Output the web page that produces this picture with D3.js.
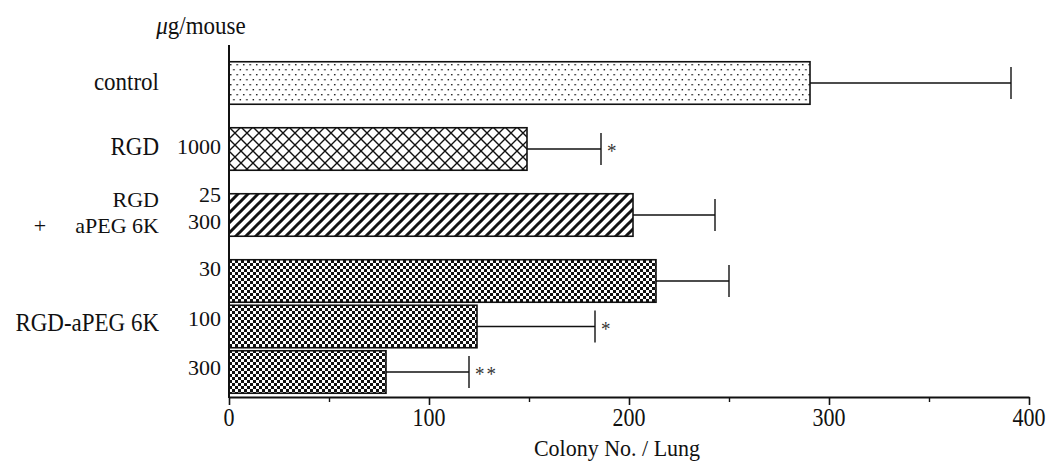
<!DOCTYPE html>
<html>
<head>
<meta charset="utf-8">
<script src="https://cdn.jsdelivr.net/npm/d3@7"></script>
<style>
  html, body { margin: 0; padding: 0; background: #fff; }
  svg { display: block; }
  text { font-family: "Liberation Serif", "Times New Roman", serif; fill: #111; }
</style>
</head>
<body>
<svg id="chart" width="1049" height="461"></svg>
<script>
// ---- data ----
const barIds    = ["control", "RGD1000", "mix", "conj30", "conj100", "conj300"];
const groups    = [0, 1, 2, 3, 3, 3];
const means     = [290.5, 149, 202, 213.5, 124, 78.5];
const errors    = [100.5, 37, 41, 36.5, 59, 41.5];
const stars     = ["", "*", "", "", "*", "**"];
const patterns  = ["dots", "cross", "diag", "checker", "checker", "checker"];
const doseLabels = [[], ["1000"], ["25", "300"], ["30"], ["100"], ["300"]];
const groupLabels = [["control"], ["RGD"], ["RGD", "aPEG 6K"], ["RGD-aPEG 6K"]];
const xTicks    = [0, 100, 200, 300, 400];
const xMinor    = [50, 150, 250, 350];
const xTitle    = "Colony No. / Lung";
const unitLabel = "g/mouse";

// ---- layout ----
const svg = d3.select("#chart");
const x = d3.scaleLinear().domain([0, 400]).range([229, 1029]);
const gapRatio = 20.5 / 45.5;
const slot = (i) => i + groups[i] * gapRatio;
const y = d3.scaleLinear().domain([0, 1]).range([83, 83 + 45.5]);
const barH = 42.5;
const VS = 1.1;           // vertical stretch of the scanned type
const FS = 23;

function label(xp, yp, str, anchor, size, vs) {
  const g = svg.append("g").attr("transform", `translate(${xp},${yp}) scale(1,${vs || VS})`);
  const t = g.append("text").attr("text-anchor", anchor || "end")
    .attr("dy", "0.35em").style("font-size", (size || FS) + "px").text(str);
  return t;
}

// patterns
const defs = svg.append("defs");
const pDots = defs.append("pattern").attr("id", "dots").attr("patternUnits", "userSpaceOnUse")
  .attr("width", 6.5).attr("height", 10).attr("x", 229).attr("y", 62);
pDots.append("rect").attr("x", 1).attr("y", 2).attr("width", 1.4).attr("height", 1.4).attr("fill", "#111");
pDots.append("rect").attr("x", 4.2).attr("y", 7).attr("width", 1.4).attr("height", 1.4).attr("fill", "#111");

const pCross = defs.append("pattern").attr("id", "cross").attr("patternUnits", "userSpaceOnUse")
  .attr("width", 12).attr("height", 12).attr("x", 229).attr("y", 127);
pCross.append("path").attr("d", "M0,0 L12,12 M12,0 L0,12")
  .attr("stroke", "#111").attr("stroke-width", 1.4).attr("fill", "none");

const pDiag = defs.append("pattern").attr("id", "diag").attr("patternUnits", "userSpaceOnUse")
  .attr("width", 10).attr("height", 10).attr("x", 229).attr("y", 193);
pDiag.append("path").attr("d", "M-2,12 L12,-2 M-3,3 L3,-3 M7,13 L13,7")
  .attr("stroke", "#111").attr("stroke-width", 3).attr("fill", "none");

const pCheck = defs.append("pattern").attr("id", "checker").attr("patternUnits", "userSpaceOnUse")
  .attr("width", 6).attr("height", 6).attr("x", 229).attr("y", 260);
pCheck.append("rect").attr("width", 6).attr("height", 6).attr("fill", "#fff");
pCheck.append("rect").attr("x", 0).attr("y", 0).attr("width", 3).attr("height", 3).attr("fill", "#111");
pCheck.append("rect").attr("x", 3).attr("y", 3).attr("width", 3).attr("height", 3).attr("fill", "#111");

// bars
const rows = barIds.map((id, i) => ({ id, i, m: means[i], e: errors[i], s: stars[i], p: patterns[i], cy: y(slot(i)) }));

svg.append("g").selectAll("rect").data(rows).join("rect")
  .attr("x", x(0))
  .attr("y", d => d.cy - barH / 2)
  .attr("width", d => x(d.m) - x(0))
  .attr("height", barH)
  .attr("fill", d => `url(#${d.p})`)
  .attr("stroke", "#111").attr("stroke-width", 1.6);

// error bars
const eb = svg.append("g").attr("stroke", "#111").attr("stroke-width", 1.4);
eb.selectAll("line.h").data(rows).join("line").attr("class", "h")
  .attr("x1", d => x(d.m)).attr("x2", d => x(d.m + d.e))
  .attr("y1", d => d.cy).attr("y2", d => d.cy);
eb.selectAll("line.c").data(rows).join("line").attr("class", "c")
  .attr("x1", d => x(d.m + d.e)).attr("x2", d => x(d.m + d.e))
  .attr("y1", d => d.cy - 16).attr("y2", d => d.cy + 16);

// significance stars
rows.filter(d => d.s).forEach(d => {
  label(x(d.m + d.e) + 6, d.cy + 2, d.s, "start", 19).style("letter-spacing", "2px").style("fill", "#333");
});

// axes
const axisY = 397;
const xAxis = d3.axisBottom(x).tickValues(xTicks).tickSize(8).tickSizeOuter(0).tickFormat(d3.format("d"));
const ax = svg.append("g").attr("transform", `translate(0,${axisY})`).call(xAxis);
ax.select(".domain").attr("stroke", "#111").attr("stroke-width", 2);
ax.selectAll(".tick line").attr("stroke", "#111").attr("stroke-width", 1.6);
ax.selectAll(".tick text").remove();
xTicks.forEach(v => label(x(v), 418, String(v), "middle", 22));
const minor = d3.axisBottom(x).tickValues(xMinor).tickSize(5).tickFormat("");
const mx = svg.append("g").attr("transform", `translate(0,${axisY})`).call(minor);
mx.select(".domain").remove();
mx.selectAll(".tick line").attr("stroke", "#111").attr("stroke-width", 1.4);

svg.append("line").attr("x1", x(0)).attr("x2", x(0)).attr("y1", 45).attr("y2", axisY + 1)
  .attr("stroke", "#111").attr("stroke-width", 2);

label(617, 448, xTitle, "middle", 22, 1.05);

// unit label with italic mu
{
  const g = svg.append("g").attr("transform", `translate(201,25) scale(1,${VS})`);
  const t = g.append("text").attr("text-anchor", "middle").attr("dy", "0.35em").style("font-size", "23px");
  t.append("tspan").style("font-style", "italic").text("\u03bc");
  t.append("tspan").text(unitLabel);
}

// dose labels
const doseY = [[], [-3], [-21, 6], [-13], [-8], [-5]];
rows.forEach(d => {
  doseLabels[d.i].forEach((s, k) => label(221, d.cy + doseY[d.i][k], s, "end", 22, 1.0));
});

// group labels
const rightX = 159;
label(rightX, rows[0].cy - 2, groupLabels[0][0]);
label(rightX, rows[1].cy - 3, groupLabels[1][0]);
label(rightX, rows[2].cy - 16, groupLabels[2][0], "end", 22, 1.0);
label(rightX, rows[2].cy + 10, groupLabels[2][1], "end", 22, 1.0);
label(40, rows[2].cy + 10, "+", "middle", 22, 1.0);
label(rightX, rows[4].cy - 4, groupLabels[3][0]);
</script>
</body>
</html>
